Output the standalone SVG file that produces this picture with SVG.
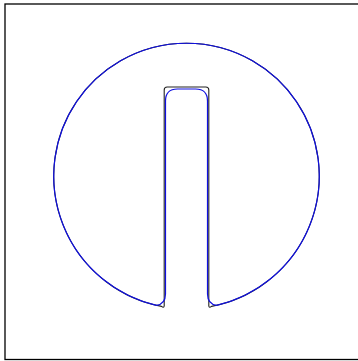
<svg xmlns="http://www.w3.org/2000/svg" width="358" height="361" viewBox="0 0 358 361">
<style>
.frame{fill:none;stroke:#000;stroke-width:1.3}
.sharp{fill:none;stroke:#222;stroke-width:1.1}
.offset{fill:none;stroke:#1010e0;stroke-width:1.2}
</style>
<rect width="358" height="361" fill="#fff"/>
<rect class="frame" x="5" y="4" width="360" height="355.5"/>
<g id="outline">
<path class="sharp" d="M 161.5 306.4 A 132.75 132.75 0 1 1 211.5 306.4 Q 209.2 308.3 208.8 306 L 208.8 90 Q 208.8 87 205.8 87 L 167.2 87 Q 164.2 87 164.2 90 L 164.2 306 Q 163.8 308.3 161.5 306.4 Z"/>
</g>
<g id="offset">
<path class="offset" d="M 156.5 305.3 A 132.75 132.75 0 1 1 216.5 305.3 Q 207.5 304 207.5 294 L 207.5 101 Q 207.5 89 195.5 89 L 177.5 89 Q 165.5 89 165.5 101 L 165.5 294 Q 165.5 304 156.5 305.3 Z"/>
</g>
</svg>
